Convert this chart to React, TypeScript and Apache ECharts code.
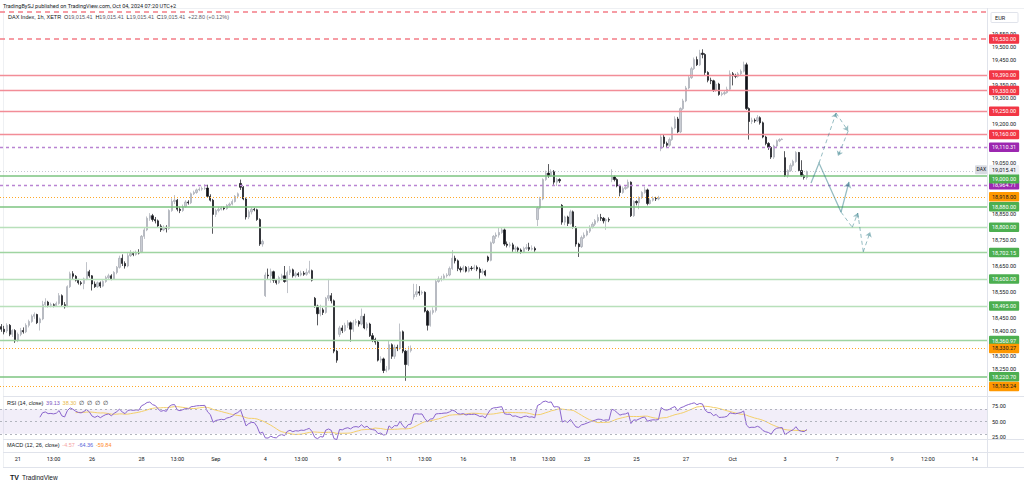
import React, { useEffect, useRef } from "react";
import * as echarts from "echarts";

// ---------- data ----------
const firstDay = "08-20";
const firstDayHours = [12, 13, 14, 15, 16, 17];
const tradingDays = ["08-21","08-22","08-23","08-26","08-27","08-28","08-29","08-30","09-02","09-03","09-04","09-05","09-06","09-09","09-10","09-11","09-12","09-13","09-16","09-17","09-18","09-19","09-20","09-23","09-24","09-25","09-26","09-27","09-30","10-01","10-02","10-03"];
const tradingHours = [9, 10, 11, 12, 13, 14, 15, 16, 17];
const futureDays = ["10-04","10-07","10-08","10-09","10-10","10-11"];
const futureHours = [9, 10, 11, 12, 13, 14, 15, 16, 17, 18];
const lastFutureDay = "10-14";
const lastFutureHours = [9, 10, 11, 12, 13];

const xTickLabels: [string, string][] = [
  ["08-21 09", "21"], ["08-22 13", "13:00"], ["08-26 09", "26"], ["08-28 09", "28"], ["08-29 13", "13:00"],
  ["09-02 09", "Sep"], ["09-04 09", "4"], ["09-05 13", "13:00"], ["09-09 09", "9"], ["09-11 09", "11"],
  ["09-12 13", "13:00"], ["09-16 09", "16"], ["09-18 09", "18"], ["09-19 13", "13:00"], ["09-23 09", "23"],
  ["09-25 09", "25"], ["09-27 09", "27"], ["09-30 17", "Oct"], ["10-03 09", "3"], ["10-07 09", "7"],
  ["10-09 09", "9"], ["10-10 12", "12:00"], ["10-14 09", "14"],
];

// hourly bars: [open, close, low, high]
const hourlyBars: number[][] = [
  // Aug 20
  [18415,18405,18395,18425],[18405,18395,18385,18418],[18398,18420,18390,18428],[18420,18385,18378,18425],[18385,18400,18375,18405],[18400,18360,18352,18405],
  // Aug 21
  [18362,18385,18355,18392],[18385,18400,18378,18410],[18400,18395,18388,18412],[18395,18420,18390,18428],[18420,18435,18412,18442],[18435,18455,18430,18462],[18455,18462,18445,18470],[18462,18430,18425,18465],[18430,18445,18400,18450],
  // Aug 22
  [18445,18500,18440,18515],[18500,18510,18490,18525],[18510,18498,18490,18515],[18498,18500,18490,18508],[18500,18497,18490,18505],[18497,18505,18492,18512],[18505,18535,18500,18545],[18535,18500,18495,18540],[18500,18492,18485,18510],
  // Aug 23
  [18495,18570,18490,18575],[18570,18620,18565,18628],[18620,18610,18600,18630],[18610,18595,18590,18615],[18595,18585,18578,18600],[18585,18582,18575,18592],[18582,18600,18560,18605],[18600,18628,18595,18665],[18628,18612,18605,18635],
  // Aug 26
  [18612,18580,18555,18615],[18580,18570,18565,18590],[18570,18585,18565,18590],[18585,18572,18565,18590],[18572,18590,18568,18595],[18590,18605,18585,18612],[18605,18612,18598,18620],[18612,18600,18595,18618],[18600,18625,18596,18630],
  // Aug 27
  [18625,18645,18618,18650],[18645,18680,18640,18690],[18680,18660,18650,18695],[18660,18650,18640,18668],[18650,18690,18645,18700],[18690,18698,18685,18712],[18698,18695,18688,18705],[18695,18702,18690,18710],[18702,18700,18695,18715],
  // Aug 28
  [18705,18765,18700,18770],[18765,18790,18755,18800],[18790,18835,18785,18842],[18835,18845,18825,18855],[18845,18830,18822,18852],[18830,18825,18815,18840],[18825,18805,18800,18830],[18805,18790,18782,18812],[18790,18800,18785,18808],
  // Aug 29
  [18800,18795,18780,18808],[18795,18865,18790,18870],[18865,18900,18860,18912],[18900,18905,18890,18925],[18905,18870,18862,18910],[18870,18865,18855,18880],[18865,18880,18860,18888],[18880,18898,18875,18905],[18898,18895,18888,18905],
  // Aug 30
  [18895,18930,18890,18935],[18930,18935,18925,18942],[18935,18945,18930,18950],[18945,18948,18940,18955],[18948,18950,18942,18958],[18950,18952,18945,18967],[18952,18920,18915,18965],[18920,18905,18900,18928],[18905,18850,18775,18910],
  // Sep 2
  [18850,18865,18840,18872],[18865,18870,18858,18878],[18870,18875,18865,18882],[18875,18872,18866,18880],[18872,18885,18868,18890],[18885,18890,18880,18896],[18890,18900,18885,18908],[18900,18920,18896,18925],[18920,18930,18912,18935],
  // Sep 3
  [18970,18955,18945,18985],[18955,18910,18905,18960],[18910,18840,18830,18915],[18840,18860,18832,18868],[18860,18870,18850,18876],[18870,18868,18862,18875],[18868,18830,18825,18872],[18830,18735,18728,18835],[18735,18745,18725,18752],
  // Sep 4
  [18535,18615,18530,18625],[18615,18612,18600,18640],[18612,18628,18585,18640],[18628,18595,18585,18632],[18595,18585,18578,18600],[18585,18605,18580,18612],[18605,18612,18595,18620],[18612,18590,18585,18650],[18590,18625,18545,18632],
  // Sep 5
  [18625,18635,18615,18650],[18635,18612,18605,18640],[18612,18620,18605,18628],[18620,18615,18608,18626],[18615,18622,18610,18632],[18622,18618,18612,18630],[18618,18625,18612,18640],[18625,18632,18620,18670],[18632,18595,18590,18636],
  // Sep 6
  [18525,18495,18488,18530],[18495,18465,18420,18500],[18465,18480,18455,18500],[18480,18470,18460,18488],[18470,18525,18465,18530],[18525,18535,18515,18600],[18535,18515,18505,18545],[18515,18320,18312,18520],[18320,18285,18275,18325],
  // Sep 9
  [18385,18410,18375,18418],[18410,18400,18390,18420],[18400,18420,18395,18430],[18420,18430,18410,18440],[18430,18405,18357,18435],[18405,18430,18395,18440],[18430,18435,18420,18445],[18435,18425,18415,18440],[18425,18455,18420,18485],
  // Sep 10
  [18455,18410,18405,18465],[18410,18425,18400,18432],[18425,18380,18375,18430],[18380,18365,18355,18390],[18365,18355,18345,18372],[18355,18285,18280,18360],[18285,18290,18275,18300],[18290,18245,18235,18295],[18245,18250,18238,18262],
  // Sep 11
  [18250,18345,18245,18360],[18345,18300,18290,18350],[18300,18335,18290,18345],[18335,18330,18320,18345],[18330,18395,18325,18427],[18395,18320,18312,18400],[18320,18268,18205,18325],[18268,18322,18262,18340],[18322,18330,18315,18342],
  // Sep 12
  [18530,18540,18520,18581],[18540,18550,18530,18580],[18550,18545,18535,18572],[18545,18548,18538,18555],[18548,18475,18470,18552],[18475,18420,18400,18480],[18420,18470,18415,18478],[18470,18478,18462,18490],[18478,18590,18470,18600],
  // Sep 13
  [18590,18600,18585,18610],[18600,18602,18590,18612],[18602,18612,18595,18620],[18612,18615,18605,18622],[18615,18640,18610,18648],[18640,18680,18635,18712],[18680,18670,18660,18690],[18670,18640,18630,18675],[18640,18635,18625,18648],
  // Sep 16
  [18635,18645,18628,18652],[18645,18630,18625,18650],[18630,18642,18625,18650],[18642,18640,18632,18650],[18640,18645,18635,18655],[18645,18638,18630,18652],[18638,18625,18600,18645],[18625,18630,18618,18640],[18630,18615,18610,18635],
  // Sep 17
  [18685,18672,18665,18690],[18672,18740,18668,18745],[18740,18765,18735,18770],[18765,18770,18755,18780],[18770,18780,18760,18800],[18780,18790,18775,18800],[18790,18735,18728,18795],[18735,18730,18722,18745],[18730,18732,18722,18742],
  // Sep 18
  [18732,18715,18705,18740],[18715,18720,18705,18728],[18720,18712,18700,18725],[18712,18705,18698,18718],[18705,18718,18700,18725],[18718,18722,18712,18735],[18722,18715,18708,18740],[18715,18718,18710,18730],[18718,18712,18705,18725],
  // Sep 19
  [18830,18875,18805,18880],[18875,18910,18870,18918],[18910,18985,18905,18990],[18985,19010,18980,19020],[19010,19000,18992,19045],[19000,19015,18995,19025],[19015,18975,18965,19022],[18975,18985,18960,18992],[18985,18980,18972,18990],
  // Sep 20
  [18885,18820,18810,18890],[18820,18840,18808,18845],[18840,18815,18805,18845],[18815,18860,18810,18868],[18860,18800,18795,18865],[18800,18735,18725,18805],[18735,18725,18685,18740],[18725,18760,18720,18768],[18760,18770,18755,18780],
  // Sep 23
  [18770,18785,18765,18792],[18785,18800,18778,18808],[18800,18812,18795,18820],[18812,18825,18805,18832],[18825,18838,18818,18850],[18838,18835,18825,18852],[18835,18825,18815,18840],[18825,18830,18790,18835],[18830,18828,18820,18838],
  // Sep 24
  [18985,18995,18975,19025],[18995,18985,18978,19000],[18985,18960,18955,18990],[18960,18935,18920,18965],[18935,18950,18930,18958],[18950,18955,18945,18962],[18955,18975,18950,18985],[18975,18845,18840,18978],[18845,18900,18840,18905],
  // Sep 25
  [18900,18895,18885,18905],[18895,18915,18870,18920],[18915,18935,18910,18940],[18935,18945,18930,18958],[18945,18892,18885,18950],[18892,18905,18888,18912],[18905,18912,18900,18920],[18912,18910,18902,18918],[18910,18915,18905,18922],
  // Sep 26
  [19105,19150,19095,19158],[19150,19125,19110,19160],[19125,19118,19110,19132],[19118,19140,19112,19148],[19140,19185,19135,19190],[19185,19220,19180,19230],[19220,19170,19165,19228],[19170,19260,19165,19265],[19260,19290,19255,19298],
  // Sep 27
  [19290,19340,19285,19348],[19340,19380,19335,19388],[19380,19415,19375,19422],[19415,19450,19410,19458],[19450,19430,19425,19462],[19430,19475,19425,19488],[19475,19470,19455,19490],[19470,19400,19390,19475],[19400,19370,19362,19405],
  // Sep 30
  [19370,19368,19355,19380],[19368,19330,19325,19372],[19330,19355,19325,19365],[19355,19315,19310,19360],[19315,19318,19308,19325],[19318,19322,19312,19330],[19322,19335,19318,19345],[19335,19395,19330,19408],[19395,19388,19350,19402],
  // Oct 1
  [19388,19385,19378,19395],[19385,19395,19380,19402],[19395,19405,19390,19412],[19405,19430,19400,19442],[19430,19260,19255,19438],[19260,19210,19140,19265],[19210,19215,19200,19225],[19215,19212,19205,19222],[19212,19225,19208,19235],
  // Oct 2
  [19225,19205,19198,19230],[19205,19150,19145,19210],[19150,19125,19118,19155],[19125,19110,19100,19130],[19110,19072,19065,19115],[19072,19115,19065,19120],[19115,19135,19110,19140],[19135,19140,19130,19145],[19140,19142,19138,19145],
  // Oct 3
  [19070,19000,18995,19095],[19000,19020,18992,19025],[19020,19040,19015,19048],[19040,19055,19035,19062],[19055,19090,19050,19095],[19090,19020,19015,19092],[19020,19000,18995,19060],[19000,18993,18985,19005],[18993,19015.41,18985,19020],
];

const lastPrice = 19015.41;
const topDashedLevel = 19635;
const redDashedLevels = [19530];
const redLevels = [19390, 19330, 19250, 19160];
const purpleLevels = [19110.31, 18964.71];
const greenStrongLevels = [19000, 18880, 18220.7];
const greenLevels = [18702.15, 18360.97];
const greenLightLevels = [18800, 18600, 18495];
const orangeLevels = [18918, 18330.27, 18183.24];

// projection drawings: [bar index, price]
const projSolid = [[294.5, 18972], [297.4, 19049], [305.4, 18859]];
const projSolidArrow = [[305.4, 18859], [308.3, 18976]];
const projDashedArrows = [
  [[297.4, 19049], [303.6, 19243]],
  [[303.6, 19243], [308.0, 19173]],
  [[308.0, 19173], [304.3, 19076]],
  [[309.5, 18800], [311.5, 18855]],
  [[313.5, 18705], [316.0, 18782]],
];
const projDashed = [[305.4, 18859], [309.5, 18800]];
const projDashed2 = [[311.5, 18855], [313.5, 18705]];

const rsiTitleValues = ["39.13", "38.30"];
const macdTitleValues = ["-4.57", "-64.36", "-59.84"];

// ---------- derived ----------
const categories: string[] = [];
firstDayHours.forEach((h) => categories.push(`${firstDay} ${String(h).padStart(2, "0")}`));
tradingDays.forEach((d) => tradingHours.forEach((h) => categories.push(`${d} ${String(h).padStart(2, "0")}`)));
futureDays.forEach((d) => futureHours.forEach((h) => categories.push(`${d} ${String(h).padStart(2, "0")}`)));
lastFutureHours.forEach((h) => categories.push(`${lastFutureDay} ${String(h).padStart(2, "0")}`));
const tickMap: Record<string, string> = {};
xTickLabels.forEach(([k, v]) => (tickMap[k] = v));

const closes = hourlyBars.map((b) => b[1]);
function computeRsi(c: number[], n: number) {
  const out: (number | string)[] = ["-"];
  let ag = 0, al = 0;
  for (let i = 1; i < c.length; i++) {
    const d = c[i] - c[i - 1];
    const g = Math.max(d, 0), l = Math.max(-d, 0);
    if (i <= n) {
      ag += g / n; al += l / n;
      out.push(i === n ? 100 - 100 / (1 + ag / (al || 1e-9)) : "-");
    } else {
      ag = (ag * (n - 1) + g) / n; al = (al * (n - 1) + l) / n;
      out.push(100 - 100 / (1 + ag / (al || 1e-9)));
    }
  }
  return out;
}
const rsi = computeRsi(closes, 14);
const rsiMa = rsi.map((_, i) => {
  const w = rsi.slice(Math.max(0, i - 13), i + 1).filter((v) => typeof v === "number") as number[];
  return w.length === 14 ? w.reduce((a, b) => a + b, 0) / 14 : "-";
});

const labeledLevels = [...redDashedLevels, ...redLevels, ...purpleLevels, ...greenStrongLevels, ...greenLevels, ...greenLightLevels, ...orangeLevels, lastPrice];

const fmt = (v: number) => v.toLocaleString("en-US", { minimumFractionDigits: 2, maximumFractionDigits: 2 });
const FONT = 'Roboto, "DejaVu Sans", sans-serif';
const TEAL = "#2b7a86";

const lvl = (v: number, color: string, type: any, width: number, bg: string | null, txt = "#ffffff", dy = 0) => ({
  yAxis: v,
  lineStyle: { color, type, width, opacity: 1 },
  label: bg
    ? { show: true, position: "end", distance: 2, offset: [0, dy], formatter: fmt(v), backgroundColor: bg, color: txt, fontSize: 5.5, fontFamily: FONT, padding: [2, 3, 1.5, 3], borderRadius: 1 }
    : { show: false },
});

export default function App() {
  const ref = useRef<HTMLDivElement>(null);
  useEffect(() => {
    document.body.style.margin = "0";
    const chart = echarts.init(ref.current!, null, { renderer: "svg" });
    const markLines = [
      lvl(topDashedLevel, "#f47c86", [5, 4], 1.5, null),
      ...redDashedLevels.map((v) => lvl(v, "#f47c86", [5, 4], 1.5, "#f23645")),
      ...redLevels.map((v) => lvl(v, "#f28d97", "solid", 1.3, "#f23645")),
      ...purpleLevels.map((v) => lvl(v, "#b984d2", [3, 3], 1.3, "#9c27b0")),
      ...greenStrongLevels.map((v) => lvl(v, "#7cc480", "solid", 1.6, "#4caf50", "#ffffff", v === 19000 ? 3 : 0)),
      ...greenLevels.map((v) => lvl(v, "#9fd4a1", "solid", 1.3, "#4caf50")),
      ...greenLightLevels.map((v) => lvl(v, "#b8e0ba", "solid", 1.3, "#4caf50")),
      ...orangeLevels.map((v) => lvl(v, "#ffa726", [1, 2], 1.2, "#ff9800", "#131722")),
      lvl(lastPrice, "#c4c7cf", [1, 2], 1, "#eef0f4", "#131722", -2),
    ];

    const staticGraphics: any[] = [
      { type: "rect", id: "bg", shape: { x: 0, y: 0, width: 1024, height: 480 }, style: { fill: "#ffffff" }, z: -10, silent: true },
      { type: "line", id: "v1", shape: { x1: 987.5, y1: 8, x2: 987.5, y2: 467 }, style: { stroke: "#e0e3eb", lineWidth: 1 }, z: 5 },
      { type: "line", id: "h0", shape: { x1: 3, y1: 8.5, x2: 1024, y2: 8.5 }, style: { stroke: "#eef0f3", lineWidth: 1 } },
      { type: "line", id: "vL", shape: { x1: 3.5, y1: 8, x2: 3.5, y2: 467 }, style: { stroke: "#eef0f3", lineWidth: 1 } },
      { type: "line", id: "h1", shape: { x1: 3, y1: 396.5, x2: 1024, y2: 396.5 }, style: { stroke: "#e0e3eb", lineWidth: 1 } },
      { type: "line", id: "h2", shape: { x1: 3, y1: 439.5, x2: 1024, y2: 439.5 }, style: { stroke: "#e0e3eb", lineWidth: 1 } },
      { type: "line", id: "h3", shape: { x1: 3, y1: 452.5, x2: 1024, y2: 452.5 }, style: { stroke: "#e0e3eb", lineWidth: 1 } },
      { type: "line", id: "h4", shape: { x1: 3, y1: 467.5, x2: 1024, y2: 467.5 }, style: { stroke: "#e0e3eb", lineWidth: 1 } },
      { type: "text", id: "t1", left: 3, top: 2.5, style: { text: "TradingBySJ published on TradingView.com, Oct 04, 2024 07:20 UTC+2", fontSize: 5.5, fill: "#131722", fontFamily: FONT } },
      {
        type: "text", id: "t2", left: 8, top: 13.5,
        style: {
          text: `{a|DAX Index, 1h, XETR}  {b|O}{c|${fmt(lastPrice)}}  {b|H}{c|${fmt(lastPrice)}}  {b|L}{c|${fmt(lastPrice)}}  {b|C}{c|${fmt(lastPrice)}}  {c|+22.80 (+0.12%)}`,
          fontSize: 5.5, fontFamily: FONT,
          rich: { a: { fill: "#131722", fontSize: 5.5 }, b: { fill: "#131722", fontSize: 5.5 }, c: { fill: "#5d606b", fontSize: 5.5 } },
        },
      },
      { type: "rect", id: "eurbox", shape: { x: 991, y: 12.5, width: 27, height: 10, r: 1 }, style: { fill: "#ffffff", stroke: "#e0e3eb", lineWidth: 1 }, z: 6 },
      { type: "text", id: "eur", left: 995, top: 15, style: { text: "EUR", fontSize: 5.5, fill: "#131722", fontFamily: FONT }, z: 7 },
      {
        type: "text", id: "rsiT", left: 7, top: 400,
        style: {
          text: `{a|RSI (14, close)}  {p|${rsiTitleValues[0]}}  {y|${rsiTitleValues[1]}}  {g|∅  ∅  ∅  ∅}`,
          fontSize: 5.5, fontFamily: FONT,
          rich: { a: { fill: "#131722", fontSize: 5.5 }, p: { fill: "#7e57c2", fontSize: 5.5 }, y: { fill: "#e8b84a", fontSize: 5.5 }, g: { fill: "#131722", fontSize: 5.5 } },
        },
      },
      {
        type: "text", id: "macdT", left: 7, top: 442,
        style: {
          text: `{a|MACD (12, 26, close)}  {r|${macdTitleValues[0]}}  {b|${macdTitleValues[1]}}  {o|${macdTitleValues[2]}}`,
          fontSize: 5.5, fontFamily: FONT,
          rich: { a: { fill: "#131722", fontSize: 5.5 }, r: { fill: "#f5a3a3", fontSize: 5.5 }, b: { fill: "#5a63d8", fontSize: 5.5 }, o: { fill: "#ff8a1f", fontSize: 5.5 } },
        },
      },
      { type: "text", id: "logo", left: 10, top: 471, style: { text: "{m|TV} {t|TradingView}", fontFamily: FONT, rich: { m: { fontSize: 7, fontWeight: "bold", fill: "#131722" }, t: { fontSize: 6.5, fill: "#131722" } } } },
    ];

    const option: any = {
      animation: false,
      backgroundColor: "#ffffff",
      textStyle: { fontFamily: FONT },
      grid: [
        { left: 0, right: 37, top: 8, height: 387 },
        { left: 0, right: 37, top: 397, height: 43 },
        { left: 0, right: 37, top: 440, height: 12 },
      ],
      xAxis: [
        { type: "category", gridIndex: 0, data: categories, boundaryGap: true, axisLine: { show: false }, axisTick: { show: false }, axisLabel: { show: false }, splitLine: { show: false } },
        { type: "category", gridIndex: 1, data: categories, boundaryGap: true, axisLine: { show: false }, axisTick: { show: false }, axisLabel: { show: false }, splitLine: { show: false } },
        {
          type: "category", gridIndex: 2, data: categories, boundaryGap: true, position: "bottom",
          axisLine: { show: false }, axisTick: { show: false }, splitLine: { show: false },
          axisLabel: {
            show: true, margin: 4, fontSize: 5.5, color: "#131722", fontFamily: FONT,
            interval: (_i: number, v: string) => v in tickMap,
            formatter: (v: string) => tickMap[v] || "",
          },
        },
        { type: "value", gridIndex: 0, min: -0.5, max: categories.length - 0.5, show: false },
      ],
      yAxis: [
        {
          type: "value", gridIndex: 0, position: "right", min: 18150, max: 19650, interval: 50,
          axisLine: { show: false }, axisTick: { show: false }, splitLine: { show: false },
          axisLabel: {
            margin: 5, fontSize: 5.5, color: "#131722", fontFamily: FONT,
            formatter: (v: number) => (v > 19560 || v < 18160 || labeledLevels.some((l) => Math.abs(l - v) < 19.5) ? "" : fmt(v)),
          },
        },
        {
          type: "value", gridIndex: 1, position: "right", min: 20, max: 90,
          axisLine: { show: false }, axisTick: { show: false }, splitLine: { show: false },
          axisLabel: { customValues: [25, 50, 75], margin: 5, fontSize: 5.5, color: "#131722", fontFamily: FONT, formatter: (v: number) => v.toFixed(2) },
        },
        { type: "value", gridIndex: 2, position: "right", min: 0, max: 1, show: false },
      ],
      series: [
        {
          type: "candlestick", xAxisIndex: 0, yAxisIndex: 0, data: hourlyBars, barWidth: "62%",
          itemStyle: { color: "#c9ccd3", color0: "#111318", borderColor: "#a5a9b2", borderColor0: "#111318", borderWidth: 0.7 },
          markLine: { silent: true, symbol: ["none", "none"], animation: false, data: markLines },
          z: 3,
        },
        {
          type: "line", xAxisIndex: 1, yAxisIndex: 1, data: rsi, showSymbol: false, lineStyle: { color: "#8a64cc", width: 1 }, z: 4,
          markArea: { silent: true, itemStyle: { color: "rgba(126,87,194,0.1)" }, data: [[{ yAxis: 30 }, { yAxis: 70 }]] },
          markLine: { silent: true, symbol: ["none", "none"], label: { show: false }, lineStyle: { color: "#b2b5be", type: [2, 3], width: 1 }, data: [{ yAxis: 70 }, { yAxis: 50 }, { yAxis: 30 }] },
        },
        { type: "line", xAxisIndex: 1, yAxisIndex: 1, data: rsiMa, showSymbol: false, lineStyle: { color: "#f3cf6a", width: 1 }, z: 3 },
        {
          type: "lines", coordinateSystem: "cartesian2d", xAxisIndex: 3, yAxisIndex: 0, polyline: true, silent: true,
          symbol: ["none", "none"], lineStyle: { color: TEAL, width: 1.3 }, data: [{ coords: projSolid }], z: 6,
        },
        {
          type: "lines", coordinateSystem: "cartesian2d", xAxisIndex: 3, yAxisIndex: 0, silent: true,
          symbol: ["none", "arrow"], symbolSize: 6, lineStyle: { color: TEAL, width: 1.3 }, data: [{ coords: projSolidArrow }], z: 6,
        },
        {
          type: "lines", coordinateSystem: "cartesian2d", xAxisIndex: 3, yAxisIndex: 0, silent: true,
          symbol: ["none", "arrow"], symbolSize: 5, lineStyle: { color: TEAL, width: 1, type: [4, 3] },
          data: projDashedArrows.map((c) => ({ coords: c })), z: 6,
        },
        {
          type: "lines", coordinateSystem: "cartesian2d", xAxisIndex: 3, yAxisIndex: 0, silent: true,
          symbol: ["none", "none"], lineStyle: { color: TEAL, width: 1, type: [4, 3] },
          data: [{ coords: projDashed }, { coords: projDashed2 }], z: 6,
        },
      ],
      graphic: staticGraphics,
    };
    chart.setOption(option);
    const py = chart.convertToPixel({ yAxisIndex: 0 } as any, lastPrice) as number;
    chart.setOption({
      graphic: [
        ...staticGraphics,
        { type: "rect", id: "daxbox", shape: { x: 975, y: py - 6.5, width: 12, height: 9, r: 1 }, style: { fill: "#d8dbe2" }, z: 8 },
        { type: "text", id: "daxtxt", x: 976.5, y: py - 4.8, style: { text: "DAX", fontSize: 5, fill: "#131722", fontFamily: FONT }, z: 9 },
      ],
    });
    return () => chart.dispose();
  }, []);
  return <div ref={ref} style={{ width: 1024, height: 480 }} />;
}
